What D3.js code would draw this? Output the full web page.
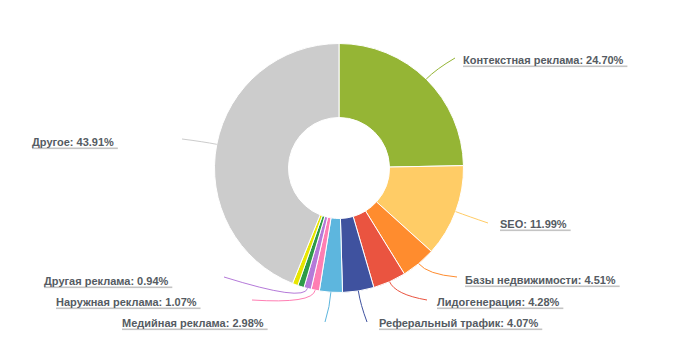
<!DOCTYPE html>
<html>
<head>
<meta charset="utf-8">
<script src="https://cdn.jsdelivr.net/npm/d3@7"></script>
<style>
  html, body { margin: 0; padding: 0; background: #fff; }
  svg { display: block; }
</style>
</head>
<body>
<svg id="chart" width="695" height="338"></svg>
<script>
// ---- data ----
const categories = [
  "Контекстная реклама", "SEO", "Базы недвижимости", "Лидогенерация",
  "Реферальный трафик", "Медийная реклама", "Наружная реклама",
  "Другая реклама", "Категория 9", "Категория 10", "Другое"
];
const values = [24.70, 11.99, 4.51, 4.28, 4.07, 2.98, 1.07, 0.94, 0.82, 0.73, 43.91];
const showLabel = [true, true, true, true, true, true, true, true, false, false, true];
const colors = [
  "#95b535", "#ffcc66", "#ff8c2e", "#ea5440", "#3f529f", "#5db6de",
  "#ff7eb3", "#b57ad9", "#2e9b48", "#e8e600", "#cccccc"
];
// label layout: [text x, text baseline y, connector end x, connector end y]
const labelLayout = [
  [463, 64, 455, 58],
  [500, 228, 488, 223],
  [465, 284, 457, 277],
  [437, 306, 427, 300],
  [379, 327, 367, 322],
  [122, 327, 325, 322],
  [56, 306, 252, 300],
  [44, 285, 224, 277],
  null,
  null,
  [32, 146, 182, 139]
];

const data = categories.map((c, i) => ({ name: c, value: values[i], color: colors[i], label: showLabel[i], layout: labelLayout[i] }));

const svg = d3.select("#chart");
const cx = 339, cy = 168, R = 124.5, r = 50.5;
const g = svg.append("g").attr("transform", `translate(${cx},${cy})`);

const pie = d3.pie().sort(null).value(d => d.value).startAngle(0).endAngle(2 * Math.PI);
const arcs = pie(data);
const arc = d3.arc().innerRadius(r).outerRadius(R);

g.selectAll("path.slice").data(arcs).enter().append("path")
  .attr("class", "slice")
  .attr("d", arc)
  .attr("fill", d => d.data.color)
  .attr("stroke", "#fff")
  .attr("stroke-width", 1)
  .attr("stroke-linejoin", "round");

// connectors
const labeled = arcs.filter(d => d.data.label);
g.selectAll("path.conn").data(labeled).enter().append("path")
  .attr("class", "conn")
  .attr("fill", "none")
  .attr("stroke", d => d.data.color)
  .attr("stroke-width", 1)
  .attr("d", d => {
    const a = (d.startAngle + d.endAngle) / 2;
    const p0 = [R * Math.sin(a), -R * Math.cos(a)];
    const c = [(R + 14) * Math.sin(a), -(R + 14) * Math.cos(a)];
    const e = [d.data.layout[2] - cx, d.data.layout[3] - cy];
    const path = d3.path();
    path.moveTo(p0[0], p0[1]);
    path.quadraticCurveTo(c[0], c[1], e[0], e[1]);
    return path.toString();
  });

// labels
const lg = svg.append("g");
labeled.forEach(d => {
  const [tx, ty] = d.data.layout;
  const t = lg.append("text")
    .attr("x", tx).attr("y", ty)
    .attr("font-family", "'Liberation Sans', Arial, sans-serif")
    .attr("font-size", 11)
    .attr("font-weight", "bold")
    .attr("fill", "#555b62")
    .text(`${d.data.name}: ${d3.format(".2f")(d.data.value)}%`);
  const w = t.node().getComputedTextLength();
  lg.insert("rect", "text")
    .attr("x", tx).attr("y", ty + 1.5)
    .attr("width", w + 4).attr("height", 1.6)
    .attr("fill", "#c4c4c4");
});
</script>
</body>
</html>
